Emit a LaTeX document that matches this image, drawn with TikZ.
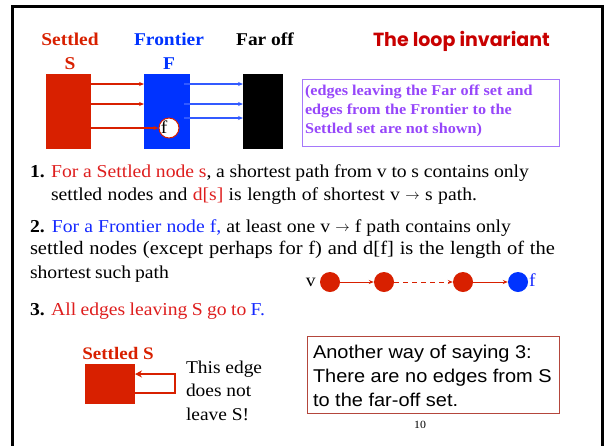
\documentclass[tikz,border=0pt]{standalone}
\usepackage{fontspec}
\setmainfont{Liberation Serif}[FakeStretch=1.08]
\newfontfamily\arialf{Liberation Sans}[FakeStretch=1.08]
\newfontfamily\futf{Poppins}
\usetikzlibrary{arrows.meta}
\definecolor{boxred}{RGB}{216,32,0}
\definecolor{txtred}{RGB}{222,30,30}
\definecolor{setblue}{RGB}{0,51,255}
\definecolor{txtblue}{RGB}{20,40,255}
\definecolor{arrblue}{RGB}{50,90,255}
\definecolor{purp}{RGB}{150,70,250}
\definecolor{purpline}{RGB}{165,120,250}
\definecolor{titred}{RGB}{200,0,0}
\definecolor{boxbrown}{RGB}{180,70,60}
\newcommand{\fitline}[2]{\hbox to #1{#2}}
\newcommand{\myarrow}{\raisebox{0.5pt}{\fontsize{14}{14}\selectfont$\rightarrow$}}
\begin{document}
\begin{tikzpicture}[x=1pt,y=-1pt,
  txt/.style={anchor=base west,inner sep=0pt,outer sep=0pt},
  ctxt/.style={anchor=base,inner sep=0pt,outer sep=0pt},
  setbox/.style={anchor=north west,inner sep=0pt,outer sep=0pt,minimum width=#1},
  redarr/.style={draw=boxred,line width=1.3pt,-{Stealth[length=5pt,width=4pt]}},
  bluearr/.style={draw=arrblue,line width=1.3pt,-{Stealth[length=5pt,width=4pt]}},
  pdot/.style={circle,inner sep=0pt,minimum size=20pt,fill=#1},
  mainfont/.style={font=\fontsize{18.2}{23}\selectfont},
  hdr/.style={font=\fontsize{18}{22}\selectfont\bfseries}
]
\useasboundingbox (0,0) rectangle (604,445);
% frame
\draw[line width=3pt] (12,448) -- (12,6) -- (602,6) -- (602,448);

% headers
\node[ctxt,hdr,text=boxred] (hs) at (70,45) {Settled};
\node[ctxt,hdr,text=boxred] (hs2) at (70,69) {S};
\node[ctxt,hdr,text=setblue] (hf) at (169,45) {Frontier};
\node[ctxt,hdr,text=setblue] (hf2) at (169,69) {F};
\node[ctxt,hdr] (ho) at (265,45) {Far off};
\node[txt,text=titred,font=\futf\bfseries\fontsize{19}{22}\selectfont] (title) at (373,46) {The loop invariant};

% set boxes
\node[setbox=45pt,minimum height=75pt,fill=boxred] (S) at (46,74) {};
\node[setbox=46pt,minimum height=75pt,fill=setblue] (F) at (144,74) {};
\node[setbox=40pt,minimum height=75pt,fill=black] (O) at (243,74) {};
\node[circle,draw=boxred,line width=1pt,fill=white,minimum size=20pt,inner sep=0pt] (fc) at (169,128) {};
\node[ctxt,font=\fontsize{18}{22}\selectfont] (fl) at (164,133) {f};

\coordinate (y1) at (0,84);
\coordinate (y2) at (0,104);
\coordinate (y3) at (0,128);
\coordinate (y4) at (0,118);
\draw[redarr] (S.east |- y1) -- (F.west |- y1);
\draw[redarr] (S.east |- y2) -- (F.west |- y2);
\draw[redarr] (S.east |- y3) -- (fc.west);
\draw[bluearr] ([xshift=-6pt]F.east |- y1) -- (O.west |- y1);
\draw[bluearr] ([xshift=-6pt]F.east |- y2) -- (O.west |- y2);
\draw[bluearr] ([xshift=-6pt]F.east |- y4) -- (O.west |- y4);

% purple note
\node[anchor=north west,draw=purpline,line width=1pt,minimum width=257pt,minimum height=67pt,inner sep=0pt] (note) at (302,79) {};
\node[txt,text=purp,font=\fontsize{15}{19}\selectfont\bfseries] (n1) at (305,95) {(edges leaving the Far off set and};
\node[txt,text=purp,font=\fontsize{15}{19}\selectfont\bfseries] (n2) at (305,114) {edges from the Frontier to the};
\node[txt,text=purp,font=\fontsize{15}{19}\selectfont\bfseries] (n3) at (305,133) {Settled set are not shown)};

% item 1
\node[txt,mainfont] (l1a) at (30,177) {\fitline{499pt}{\textbf{1.} \textcolor{txtred}{For a Settled node s}, a shortest path from v to s contains only}};
\node[txt,mainfont] (l1b) at (51,200) {\fitline{426pt}{settled nodes and \textcolor{txtred}{d[s]} is length of shortest v \myarrow{} s path.}};
% item 2
\node[txt,mainfont] (l2a) at (30,232) {\fitline{481pt}{\textbf{2.} \textcolor{txtblue}{For a Frontier node f,} at least one v \myarrow{} f path contains only}};
\node[txt,font=\fontsize{19}{23}\selectfont] (l2b) at (30,254) {\fitline{525pt}{settled nodes (except perhaps for f) and d[f] is the length of the}};
\node[txt,mainfont] (l2c) at (30,278) {\fitline{139pt}{shortest such path}};

% path
\node[pdot=boxred] (c1) at (330,282) {};
\node[pdot=boxred] (c2) at (384,282) {};
\node[pdot=boxred] (c3) at (463,282) {};
\node[pdot=setblue] (c4) at (518,282) {};
\node[anchor=base east,inner sep=0pt,mainfont] (vl) at (316,286) {v};
\node[anchor=base west,inner sep=0pt,mainfont,text=txtblue] (fl2) at (529,286) {f};
\draw[redarr,line width=1pt] (c1) -- (c2);
\draw[redarr,line width=1pt,dash pattern=on 5pt off 4pt] (c2) -- (c3);
\draw[redarr,line width=1pt] (c3) -- (c4);

% item 3
\node[txt,mainfont] (l3) at (30,315) {\fitline{235pt}{\textbf{3.} \textcolor{txtred}{All edges leaving S go to} \textcolor{txtblue}{F.}}};

% bottom left
\node[ctxt,font=\fontsize{17.6}{22}\selectfont\bfseries,text=boxred] (ss) at (118,359) {Settled S};
\node[setbox=50pt,minimum height=40pt,fill=boxred] (sq) at (85,364) {};
\coordinate (lp) at (175,393);
\coordinate (lq) at (175,374);
\draw[draw=boxred,line width=2.2pt,-{Stealth[length=7pt,width=7pt]}] (sq.east |- lp) -- (lp) -- (lq) -- (sq.east |- lq);
\node[txt,font=\fontsize{18}{24}\selectfont] (e1) at (186,373) {This edge};
\node[txt,font=\fontsize{18}{24}\selectfont] (e2) at (186,396) {does not};
\node[txt,font=\fontsize{18}{24}\selectfont] (e3) at (186,420) {leave S!};

% bottom right box
\node[anchor=north west,draw=boxbrown,line width=1pt,minimum width=252pt,minimum height=77pt,inner sep=0pt] (ab) at (307,336) {};
\node[txt,font=\arialf\fontsize{18.5}{24}\selectfont] (a1) at (313,358) {Another way of saying 3:};
\node[txt,font=\arialf\fontsize{18.5}{24}\selectfont] (a2) at (313,382) {There are no edges from S};
\node[txt,font=\arialf\fontsize{18.5}{24}\selectfont] (a3) at (313,406) {to the far-off set.};

\node[ctxt,font=\fontsize{11}{12}\selectfont] (pg) at (420,428) {10};
\end{tikzpicture}
\end{document}
